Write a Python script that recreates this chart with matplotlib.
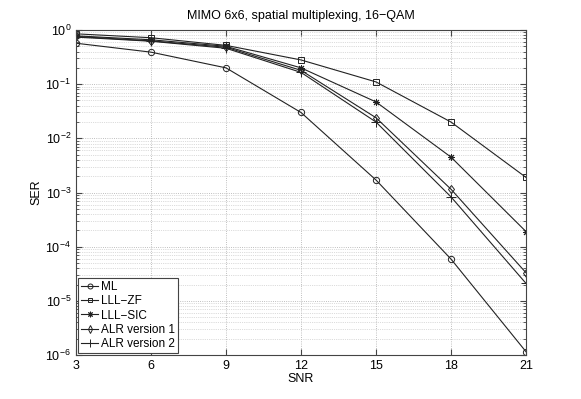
import matplotlib
matplotlib.use("Agg")
import matplotlib.pyplot as plt
from matplotlib.ticker import LogLocator, NullFormatter

snr = [3, 6, 9, 12, 15, 18, 21]
ser_ml = [0.57, 0.39, 0.20, 0.030, 0.0017, 5.9e-5, 1.15e-6]
ser_zf = [0.85, 0.72, 0.52, 0.28, 0.11, 0.020, 0.0019]
ser_sic = [0.78, 0.66, 0.50, 0.20, 0.047, 0.0045, 1.9e-4]
ser_alr1 = [0.76, 0.63, 0.48, 0.18, 0.024, 0.00115, 3.3e-5]
ser_alr2 = [0.74, 0.62, 0.46, 0.165, 0.020, 8.3e-4, 2.1e-5]
labels = ["ML", "LLL\u2212ZF", "LLL\u2212SIC", "ALR version 1", "ALR version 2"]
title = "MIMO 6x6, spatial multiplexing, 16\u2212QAM"
xticks = [3, 6, 9, 12, 15, 18, 21]

plt.rcParams['font.family'] = ['Liberation Sans', 'DejaVu Sans']
fig = plt.figure(figsize=(5.81, 3.99), dpi=100)
ax = fig.add_axes([76/581, 1-355/399, 450/581, 325/399])

series = [ser_ml, ser_zf, ser_sic, ser_alr1, ser_alr2]
markers = ['o', 's', (8, 2, 0), 'd', '+']
msizes = [4.5, 4, 5, 4.5, 6.5]
for s, m, ms, lab in zip(series, markers, msizes, labels):
    ax.semilogy(snr, s, color='#222222', lw=0.8, marker=m, ms=ms,
                mfc='none', mec='#222222', mew=0.7, label=lab)

ax.set_xlim(3, 21)
ax.set_ylim(1e-6, 1)
ax.set_xticks(xticks)
ax.set_xticklabels([str(t) for t in xticks])
ax.yaxis.set_major_locator(LogLocator(base=10, numticks=10))
ax.yaxis.set_minor_locator(LogLocator(base=10, subs=range(2, 10), numticks=100))
ax.yaxis.set_minor_formatter(NullFormatter())
ax.yaxis.get_offset_text().set_visible(False)
ax.xaxis.get_offset_text().set_visible(False)
ax.grid(True, which='major', ls=':', color='#aaaaaa', lw=0.6)
ax.grid(True, which='minor', axis='y', ls=':', color='#bbbbbb', lw=0.5)
ax.tick_params(direction='in', which='both', top=True, right=True, labelsize=9, color='#444444')
ax.tick_params(which='major', length=4)
ax.tick_params(which='minor', length=2)
for sp in ax.spines.values():
    sp.set_color('#444444')
    sp.set_linewidth(0.8)
ax.set_xlabel("SNR", fontsize=9, labelpad=1)
ax.set_ylabel("SER", fontsize=9, labelpad=2)
ax.set_title(title, fontsize=9, pad=8)
leg = ax.legend(loc='lower left', fontsize=8.5, fancybox=False, framealpha=1,
                edgecolor='#444444', handlelength=1.5, handletextpad=0.2,
                borderpad=0.25, labelspacing=0.2, borderaxespad=0.15,
                markerscale=0.8)
leg.get_frame().set_linewidth(0.8)
fig.savefig("out.png", dpi=100)
